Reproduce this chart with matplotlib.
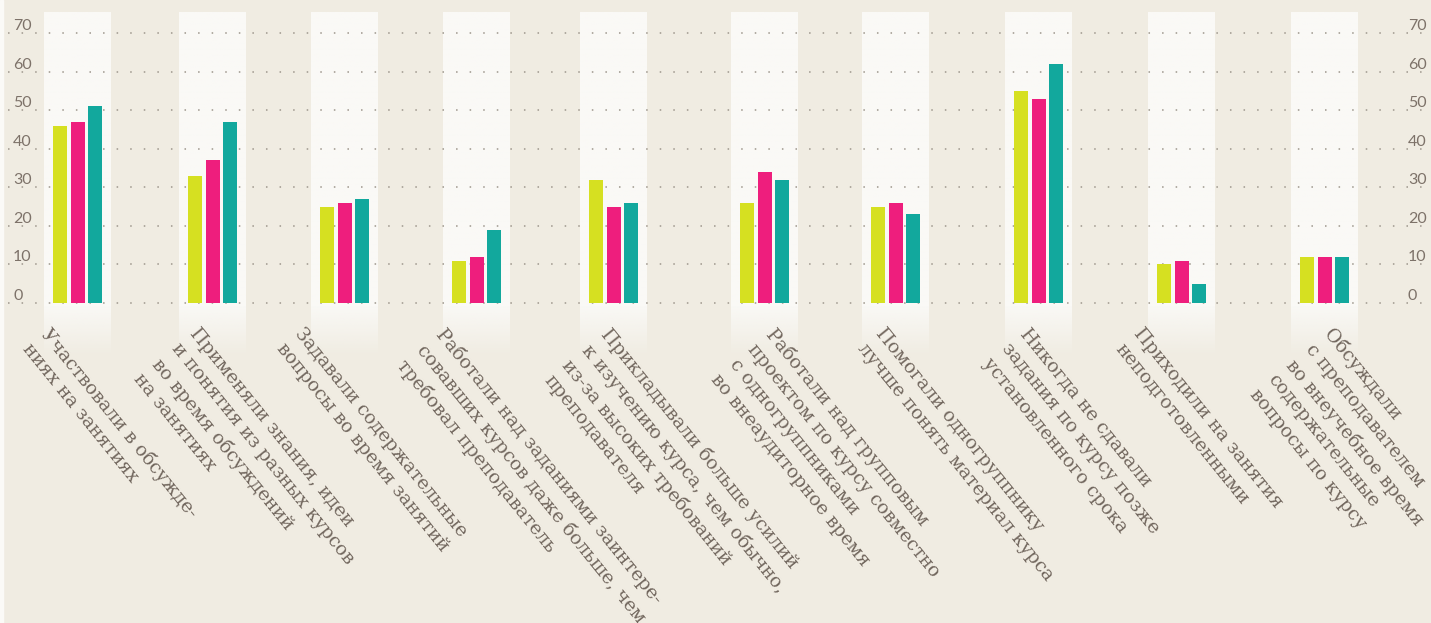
import numpy as np
import matplotlib
matplotlib.use("Agg")
import matplotlib.pyplot as plt
from matplotlib.patches import Rectangle

# ---------------- data ----------------
categories = [
    "Участвовали в обсужде-\nниях на занятиях",
    "Применяли знания, идеи\nи понятия из разных курсов\nво время обсуждений\nна занятиях",
    "Задавали содержательные\nвопросы во время занятий",
    "Работали над заданиями заинтере-\nсовавших курсов даже больше, чем\nтребовал преподаватель",
    "Прикладывали больше усилий\nк изучению курса, чем обычно,\nиз-за высоких требований\nпреподавателя",
    "Работали над групповым\nпроектом по курсу совместно\nс одногруппниками\nво внеаудиторное время",
    "Помогали одногруппнику\nлучше понять материал курса",
    "Никогда не сдавали\nзадания по курсу позже\nустановленного срока",
    "Приходили на занятия\nнеподготовленными",
    "Обсуждали\nс преподавателем\nво внеучебное время\nсодержательные\nвопросы по курсу",
]
series_yellow = [46, 33, 25, 11, 32, 26, 25, 55, 10, 12]
series_pink   = [47, 37, 26, 12, 25, 34, 26, 53, 11, 12]
series_teal   = [51, 47, 27, 19, 26, 32, 23, 62, 5, 12]
y_ticks = [0, 10, 20, 30, 40, 50, 60, 70]

# ---------------- layout (pixels) ----------------
W, H = 1431, 623
group_x = [77.5, 212.5, 344.5, 476.5, 613.5, 764.5, 895.5, 1038.5, 1181.5, 1324.5]
label_dx = [-25.5, -12.5, -39.5, -29.5, -1.5, 12.5, -9.5, -8.5, -37.5, 10.5]
band_w = 67
bar_w = 14
bar_off = [-17.5, 0.0, 17.5]
zero_px, top_px = 303.0, 33.0
k = (zero_px - top_px) / 70.0


def v(p):
    """pixel row (from top) -> value units"""
    return (zero_px - p) / k


BG = "#f0ece2"
BAND = "#faf9f6"
TXT = "#72675e"
NUM = "#7d7269"
DOT = "#9d968c"
colors = ["#d6e021", "#ee1e7d", "#12a89d"]

fig = plt.figure(figsize=(W / 100, H / 100), dpi=100, facecolor=BG)
ax = fig.add_axes([0, 0, 1, 1])
ax.set_facecolor(BG)
ax.axis("off")

# thin light strip at left edge
fig.patches.append(Rectangle((0, 0), 3 / W, 1, transform=fig.transFigure,
                             color="#fbfaf7", zorder=0))

# bands with fading bottom
band_top, fade_start, fade_end = v(12), v(306), v(356)
n = 400
vals = np.linspace(band_top, fade_end, n)
alpha = np.clip((vals - fade_end) / (fade_start - fade_end), 0, 1)
rgb = matplotlib.colors.to_rgb(BAND)
img = np.zeros((n, 1, 4))
img[:, 0, :3] = rgb
img[:, 0, 3] = alpha
for gx in group_x:
    ax.imshow(img, extent=[gx - band_w / 2, gx + band_w / 2, fade_end, band_top],
              aspect="auto", interpolation="bilinear", zorder=1)

# dotted grid lines
lw = 1.1
for t in y_ticks:
    ax.plot([8.3, 1424], [t, t], color=DOT, lw=lw,
            linestyle=(0, (1, 7.887)), dash_capstyle="butt", zorder=2)
    for xl in (13, 1408):
        ax.text(xl, t + 3 / k, str(t), ha="left", va="baseline", fontsize=11.5,
                color=NUM, family=["Lato", "DejaVu Sans"], fontweight="normal",
                zorder=3)

# bars
for si, s in enumerate([series_yellow, series_pink, series_teal]):
    xs = [gx + bar_off[si] for gx in group_x]
    ax.bar(xs, s, width=bar_w, color=colors[si], zorder=4, linewidth=0)

# category labels
for gx, dx, lab in zip(group_x, label_dx, categories):
    ax.text(gx + dx, v(325), lab, rotation=-51, rotation_mode="anchor",
            ha="left", va="top", fontsize=13.5, color=TXT,
            family=["DejaVu Serif"], linespacing=1.4, zorder=5, clip_on=False)

ax.set_xlim(0, W)
ax.set_ylim(v(H), v(0))

fig.savefig("out.png", dpi=100, facecolor=BG)
